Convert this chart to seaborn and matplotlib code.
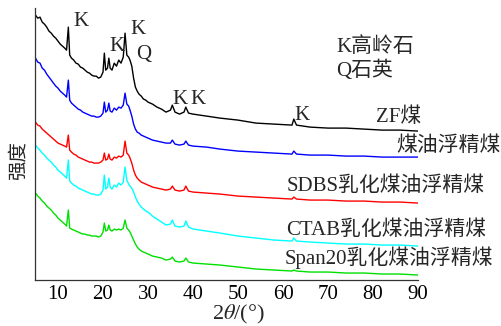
import matplotlib
matplotlib.use("Agg")
import matplotlib.pyplot as plt
import seaborn as sns
import pandas as pd

# 2theta grid (degrees)
two_theta = [5, 5.5, 6, 6.5, 7, 7.5, 8, 8.5, 9, 9.5, 10, 10.5, 11, 11.5,
             11.9, 12.3, 12.6,
             13, 13.5, 14, 14.5, 15, 15.5, 16, 16.5, 17, 17.5, 18, 18.5, 19, 19.5,
             20, 20.3, 20.6, 21, 21.3, 21.6, 22, 22.5, 23, 23.5, 24, 24.5, 24.9, 25.3, 25.7,
             26, 26.4, 26.8, 27.2, 27.6, 28, 28.5, 29, 29.5, 30,
             31, 32, 33, 34, 35, 35.4, 36, 37, 38, 38.4, 39, 40,
             43, 46, 50, 54, 58, 62, 62.4, 63, 66, 70, 74, 78, 82, 86, 90]

# stacked intensities (arbitrary units, offsets included)
zf_coal = [265, 262, 263, 258, 256, 253, 249, 247, 244, 242, 239, 236, 234, 232,
           230, 253, 225,
           222, 220, 217, 216, 213, 212, 210, 208, 207, 205, 204, 204, 202, 203,
           208, 227, 210, 212, 222, 212, 210, 217, 214, 220, 217, 223, 247, 225, 223,
           220, 214, 202, 193, 189, 186, 184, 181, 180, 178,
           176, 173, 171, 168, 170, 175, 168, 166, 168, 173, 167, 166,
           164, 162, 160, 157, 156, 155, 161, 155, 153, 152, 152, 151, 150, 150, 149]
kerosene = [222, 218, 217, 212, 210, 206, 203, 200, 197, 194, 192, 189, 187, 185,
            183, 200, 180,
            177, 175, 173, 171, 170, 168, 167, 166, 165, 164, 164, 163, 163, 164,
            167, 178, 168, 170, 177, 169, 168, 172, 170, 173, 172, 175, 187, 176, 174,
            170, 164, 156, 151, 148, 147, 145, 144, 143, 142,
            140, 139, 138, 137, 137, 140, 136, 135, 136, 139, 135, 134,
            133, 131, 129, 128, 127, 126, 129, 126, 125, 125, 124, 124, 123, 123, 123]
sdbs = [158, 155, 154, 151, 149, 147, 145, 143, 141, 139, 137, 136, 135, 134,
        133, 145, 130,
        128, 126, 125, 123, 122, 121, 120, 119, 118, 118, 117, 117, 117, 118,
        120, 127, 120, 121, 126, 121, 120, 123, 122, 124, 123, 125, 139, 127, 125,
        122, 117, 110, 105, 102, 100, 98, 97, 96, 95,
        93, 92, 91, 90, 91, 94, 90, 89, 90, 94, 89, 88,
        87, 86, 84, 83, 82, 81, 83, 81, 80, 80, 79, 79, 78, 78, 77]
ctab = [135, 132, 130, 127, 125, 122, 120, 118, 115, 113, 110, 108, 106, 104,
        102, 120, 99,
        97, 95, 94, 92, 91, 90, 89, 88, 87, 86, 86, 85, 85, 86,
        90, 105, 91, 93, 102, 93, 91, 95, 93, 97, 95, 98, 113, 100, 96,
        94, 92, 88, 83, 79, 76, 73, 71, 69, 68,
        64, 61, 58, 55, 56, 60, 54, 53, 54, 59, 53, 51,
        49, 47, 44, 42, 40, 39, 42, 39, 38, 37, 36, 36, 35, 35, 34]
span20 = [87, 84, 82, 79, 77, 74, 72, 70, 67, 65, 62, 60, 58, 56,
          54, 70, 52,
          51, 50, 49, 48, 47, 46, 46, 45, 45, 44, 44, 44, 43, 44,
          48, 57, 49, 50, 55, 50, 49, 51, 50, 51, 50, 52, 60, 52, 50,
          48, 44, 40, 36, 33, 31, 29, 28, 27, 26,
          24, 23, 22, 20, 21, 23, 19, 18, 19, 22, 18, 17,
          16, 15, 13, 11, 10, 9, 10, 9, 8, 8, 7, 7, 6, 6, 5]

samples = ['ZF煤', '煤油浮精煤', 'SDBS乳化煤油浮精煤', 'CTAB乳化煤油浮精煤', 'Span20乳化煤油浮精煤']
colors = ['#000000', '#0000ff', '#ff0000', '#00ffff', '#00e000']
xticks = [10, 20, 30, 40, 50, 60, 70, 80, 90]

frames = []
for name, vals in zip(samples, [zf_coal, kerosene, sdbs, ctab, span20]):
    frames.append(pd.DataFrame({'two_theta': two_theta, 'intensity': vals, 'sample': name}))
df = pd.concat(frames, ignore_index=True)

sns.set_style('white')
plt.rcParams['font.family'] = ['Liberation Serif', 'Noto Sans CJK SC']
plt.rcParams['mathtext.fontset'] = 'stix'

fig = plt.figure(figsize=(5.02, 3.26), dpi=100)
ax = fig.add_axes([0.0707, 0.141, 0.762, 0.834])
sns.lineplot(data=df, x='two_theta', y='intensity', hue='sample', hue_order=samples,
             palette=colors, estimator=None, sort=False, linewidth=1.0,
             legend=False, ax=ax)

ax.set_xlim(5, 90)
ax.set_ylim(0, 272)
ax.set_xticks(xticks)
ax.set_yticks([])
ax.tick_params(axis='x', direction='in', length=4, width=0.8, pad=3.5,
               labelsize=15, colors='black')
sns.despine(ax=ax)
for side in ['left', 'bottom']:
    ax.spines[side].set_color('#333333')
    ax.spines[side].set_linewidth(0.9)

ax.set_xlabel(r'2$\theta$/(°)', fontsize=16)
ax.xaxis.set_label_coords(0.53, -0.085)
ax.set_ylabel('强度', fontsize=14)
ax.yaxis.set_label_coords(-0.02, 0.44)

# peak markers
fs = 15
for txt, x, y in [('K', 15.1, 259), ('K', 23.1, 234), ('K', 27.8, 251), ('Q', 29.1, 226),
                  ('K', 37.1, 181), ('K', 41.1, 181), ('K', 64.2, 165)]:
    ax.text(x, y, txt, fontsize=fs, ha='center', va='center')

ax.text(71.8, 233, 'K高岭石', fontsize=fs, ha='left', va='center')
ax.text(71.8, 209, 'Q石英', fontsize=fs, ha='left', va='center')

# curve names
for txt, x, y in [('ZF煤', 80.7, 163), ('煤油浮精煤', 85.1, 134),
                  ('SDBS乳化煤油浮精煤', 60.9, 94), ('CTAB乳化煤油浮精煤', 60.7, 50),
                  ('Span20乳化煤油浮精煤', 60.4, 22)]:
    ax.text(x, y, txt, fontsize=fs, ha='left', va='center', clip_on=False)

fig.savefig('out.png', dpi=100)
